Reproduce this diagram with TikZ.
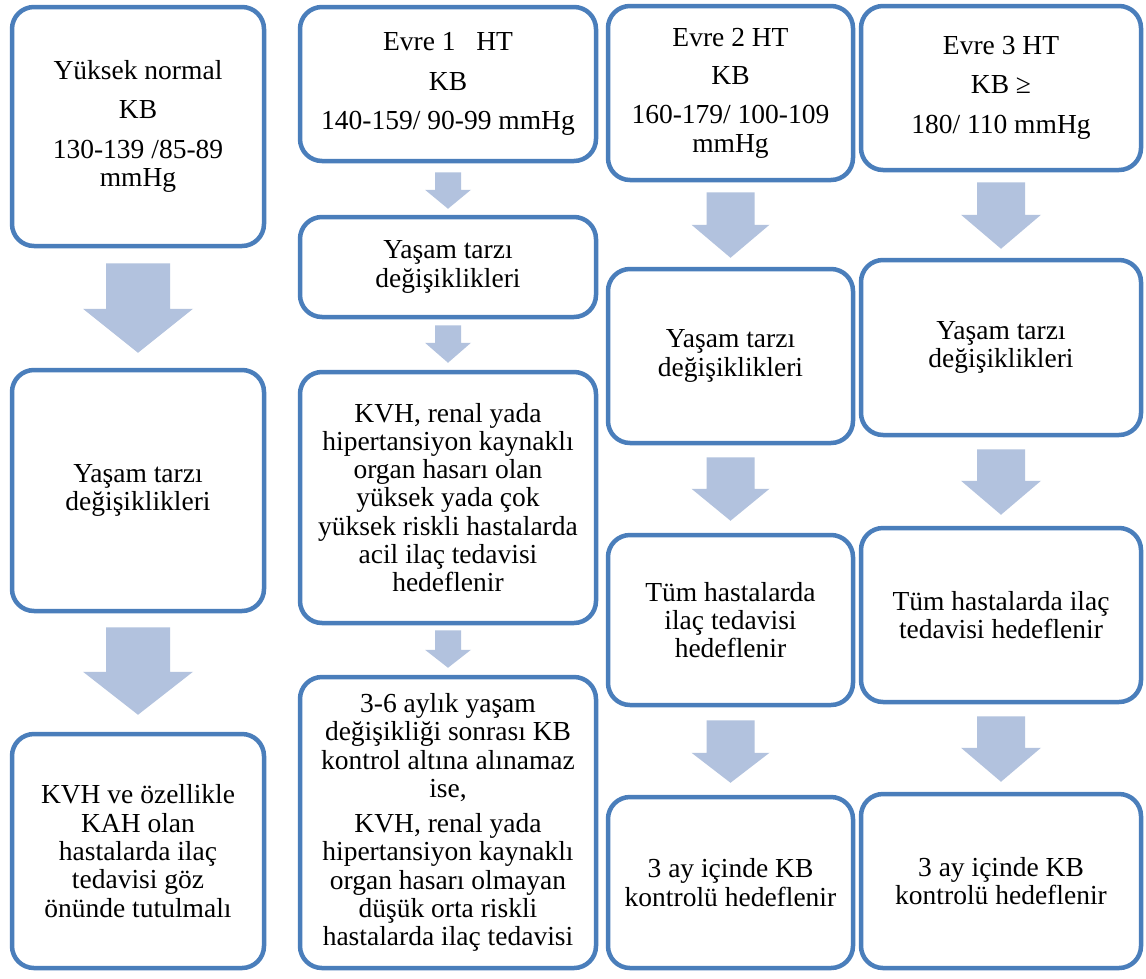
\documentclass[tikz,border=0pt]{standalone}
\usepackage{fontspec}
\setmainfont{LiberationSerif}[Extension=.ttf, UprightFont=*-Regular, BoldFont=*-Bold]
\usetikzlibrary{calc}
\definecolor{bordblue}{RGB}{74,126,187}
\definecolor{arrblue}{RGB}{178,194,222}
\tikzset{
  box/.style={draw=bordblue, line width=4.5pt, rounded corners=22pt, fill=white,
    align=center, inner sep=0pt, text=black,
    font=\rmfamily\fontsize{27.5}{28.3}\selectfont},
  arrowfill/.style={fill=arrblue}
}
% name, x1, y1, x2, y2, text
\newcommand\bx[6]{%
  \node[box, minimum width={(#4-#2)*1pt}, minimum height={(#5-#3)*1pt}]
    (#1) at ({(#2+#4)/2},{(#3+#5)/2}) {#6};}
% from, to, gaptop, gapbottom, headlen, shafthalf, headhalf
\newcommand\barrow[7]{%
  \fill[arrowfill] let \p1=($(#1.south)+(0,#3)$), \p2=($(#2.north)+(0,-#4)$) in
    (\x2-#6pt,\y1) -- (\x2+#6pt,\y1) -- (\x2+#6pt,\y2+#5pt) -- (\x2+#7pt,\y2+#5pt)
    -- (\x2,\y2) -- (\x2-#7pt,\y2+#5pt) -- (\x2-#6pt,\y2+#5pt) -- cycle;}
\begin{document}
\begin{tikzpicture}[x=1pt,y=-1pt]
\useasboundingbox[fill=white] (0,0) rectangle (1146,978);
% column 1
\bx{A1}{12}{7}{264}{246}{Yüksek normal\\[11pt]KB\\[11pt]130-139 /85-89\\mmHg}
\bx{A2}{12}{370}{264}{611}{Yaşam tarzı\\değişiklikleri}
\bx{A3}{12}{734}{264}{968}{KVH ve özellikle\\KAH olan\\hastalarda ilaç\\tedavisi göz\\önünde tutulmalı}
% column 2
\bx{B1}{300}{7}{596}{161}{Evre 1~~~HT\\[11pt]KB\\[11pt]140-159/ 90-99 mmHg}
\bx{B2}{300}{217}{596}{317}{Yaşam tarzı\\değişiklikleri}
\bx{B3}{300}{372}{596}{623}{KVH, renal yada\\hipertansiyon kaynaklı\\organ hasarı olan\\yüksek yada çok\\yüksek riskli hastalarda\\acil ilaç tedavisi\\hedeflenir}
\bx{B4}{300}{677}{596}{968}{3-6 aylık yaşam\\değişikliği sonrası KB\\kontrol altına alınamaz\\ise,\\[7pt]KVH, renal yada\\hipertansiyon kaynaklı\\organ hasarı olmayan\\düşük orta riskli\\hastalarda ilaç tedavisi}
% column 3
\bx{C1}{608}{6}{853}{180}{Evre 2 HT\\[10pt]KB\\[11pt]160-179/ 100-109\\mmHg}
\bx{C2}{608}{269}{853}{443}{Yaşam tarzı\\değişiklikleri}
\bx{C3}{608}{535}{853}{705}{Tüm hastalarda\\ilaç tedavisi\\hedeflenir}
\bx{C4}{608}{797}{853}{968}{3 ay içinde KB\\kontrolü hedeflenir}
% column 4
\bx{D1}{861}{6}{1141}{170}{Evre 3 HT\\[11pt]KB ≥\\[12pt]180/ 110 mmHg}
\bx{D2}{861}{260}{1141}{435}{Yaşam tarzı\\değişiklikleri}
\bx{D3}{861}{528}{1141}{702}{Tüm hastalarda ilaç\\tedavisi hedeflenir}
\bx{D4}{861}{794}{1141}{968}{3 ay içinde KB\\kontrolü hedeflenir}
% block arrows
\barrow{A1}{A2}{15}{15}{44}{32}{55}
\barrow{A2}{A3}{14}{17}{43}{32}{55}
\barrow{B1}{B2}{9}{6}{19}{13}{23}
\barrow{B2}{B3}{6}{7}{20}{13}{23}
\barrow{B3}{B4}{5}{7}{18}{13}{23}
\barrow{C1}{C2}{10}{9}{33}{24}{39}
\barrow{C2}{C3}{12}{12}{32}{24}{39}
\barrow{C3}{C4}{13}{12}{30}{24}{39}
\barrow{D1}{D2}{10}{9}{34}{24}{40}
\barrow{D2}{D3}{12}{11}{34}{24}{40}
\barrow{D3}{D4}{12}{10}{34}{24}{40}
\end{tikzpicture}
\end{document}
